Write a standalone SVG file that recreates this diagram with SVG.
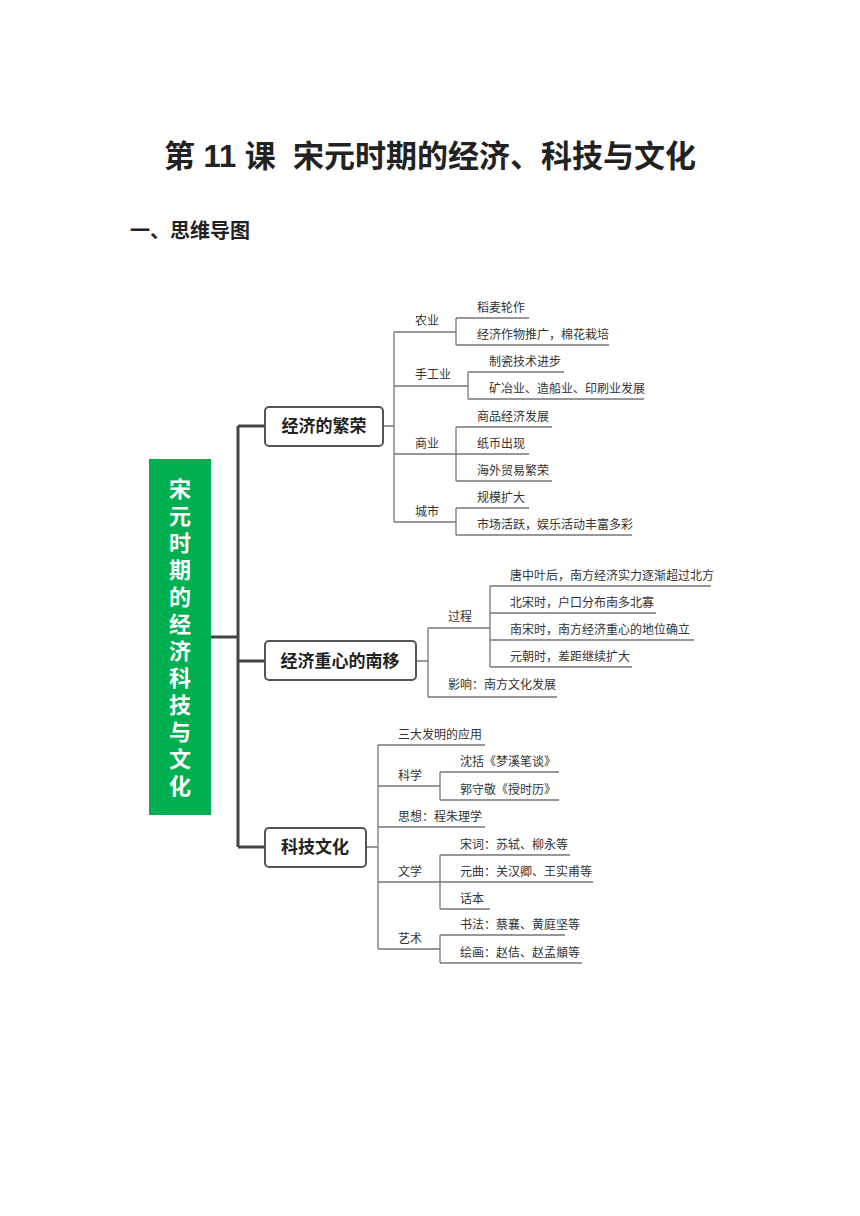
<svg xmlns="http://www.w3.org/2000/svg" width="860" height="1216" viewBox="0 0 860 1216">
<style>
text{font-family:"Liberation Sans","Noto Sans CJK SC",sans-serif;fill:#222}
.t{font-size:12px;fill:#333}
.b{font-size:17px;font-weight:bold;text-anchor:middle}
.l{stroke:#777;stroke-width:1.3;fill:none}
.k{stroke:#444;stroke-width:3;fill:none}
.box{fill:#fff;stroke:#555;stroke-width:2}
.g{font-size:22px;font-weight:bold;fill:#fff;text-anchor:middle}
</style>
<rect width="860" height="1216" fill="#fff"/>
<text x="430" y="167" style="font-size:31px;font-weight:bold" text-anchor="middle" xml:space="preserve">第 11 课  宋元时期的经济、科技与文化</text>
<text x="130" y="238" style="font-size:20px;font-weight:bold">一、思维导图</text>
<g id="connectors">
<path class="k" d="M211 637H238M238 426V847M238 426H265M238 661H265M238 847H265"/>
<path class="l" d="M383 426H394M394 332V522M394 332H456M394 386H468M394 454H456M394 522H456"/>
<path class="l" d="M456 318V345M456 318H529M456 345H609"/>
<path class="l" d="M468 372V399M468 372H564M468 399H644"/>
<path class="l" d="M456 427V481M456 427H552M456 454H529M456 481H552"/>
<path class="l" d="M456 508V535M456 508H529M456 535H632"/>
<path class="l" d="M416 661H428M428 628V697M428 628H490M428 697H557M490 586V667M490 586H711M490 613H656M490 640H694M490 667H632"/>
<path class="l" d="M366 847H378M378 745V949M378 745H485M378 786H440M378 827H485M378 882H440M378 949H440"/>
<path class="l" d="M440 772V800M440 772H559M440 800H559M440 855V909M440 855H570M440 882H593M440 909H490M440 935V963M440 935H565M440 963H582"/>
</g>
<g id="root"><rect x="149" y="459" width="62" height="356" fill="#00b050"/>
<text class="g" x="180" y="497">宋</text><text class="g" x="180" y="524">元</text><text class="g" x="180" y="551">时</text><text class="g" x="180" y="578">期</text><text class="g" x="180" y="605">的</text><text class="g" x="180" y="632">经</text><text class="g" x="180" y="659">济</text><text class="g" x="180" y="686">科</text><text class="g" x="180" y="713">技</text><text class="g" x="180" y="740">与</text><text class="g" x="180" y="767">文</text><text class="g" x="180" y="794">化</text></g>
<g id="n1"><rect class="box" x="265" y="407" width="118" height="39" rx="4"/><text class="b" x="324" y="432">经济的繁荣</text></g>
<g id="n2"><rect class="box" x="265" y="641" width="151" height="39" rx="4"/><text class="b" x="340" y="667">经济重心的南移</text></g>
<g id="n3"><rect class="box" x="265" y="828" width="101" height="39" rx="4"/><text class="b" x="315" y="853">科技文化</text></g>
<g id="leaves">
<text class="t" x="415" y="325">农业</text>
<text class="t" x="477" y="312">稻麦轮作</text>
<text class="t" x="477" y="339">经济作物推广，棉花栽培</text>
<text class="t" x="415" y="379">手工业</text>
<text class="t" x="489" y="366">制瓷技术进步</text>
<text class="t" x="489" y="393">矿冶业、造船业、印刷业发展</text>
<text class="t" x="415" y="448">商业</text>
<text class="t" x="477" y="421">商品经济发展</text>
<text class="t" x="477" y="448">纸币出现</text>
<text class="t" x="477" y="475">海外贸易繁荣</text>
<text class="t" x="415" y="516">城市</text>
<text class="t" x="477" y="502">规模扩大</text>
<text class="t" x="477" y="529">市场活跃，娱乐活动丰富多彩</text>
<text class="t" x="448" y="621">过程</text>
<text class="t" x="510" y="580">唐中叶后，南方经济实力逐渐超过北方</text>
<text class="t" x="510" y="607">北宋时，户口分布南多北寡</text>
<text class="t" x="510" y="634">南宋时，南方经济重心的地位确立</text>
<text class="t" x="510" y="661">元朝时，差距继续扩大</text>
<text class="t" x="448" y="689">影响：南方文化发展</text>
<text class="t" x="398" y="739">三大发明的应用</text>
<text class="t" x="398" y="780">科学</text>
<text class="t" x="460" y="766">沈括《梦溪笔谈》</text>
<text class="t" x="460" y="794">郭守敬《授时历》</text>
<text class="t" x="398" y="821">思想：程朱理学</text>
<text class="t" x="398" y="876">文学</text>
<text class="t" x="460" y="849">宋词：苏轼、柳永等</text>
<text class="t" x="460" y="876">元曲：关汉卿、王实甫等</text>
<text class="t" x="460" y="903">话本</text>
<text class="t" x="398" y="943">艺术</text>
<text class="t" x="460" y="929">书法：蔡襄、黄庭坚等</text>
<text class="t" x="460" y="957">绘画：赵佶、赵孟頫等</text>
</g>
</svg>
